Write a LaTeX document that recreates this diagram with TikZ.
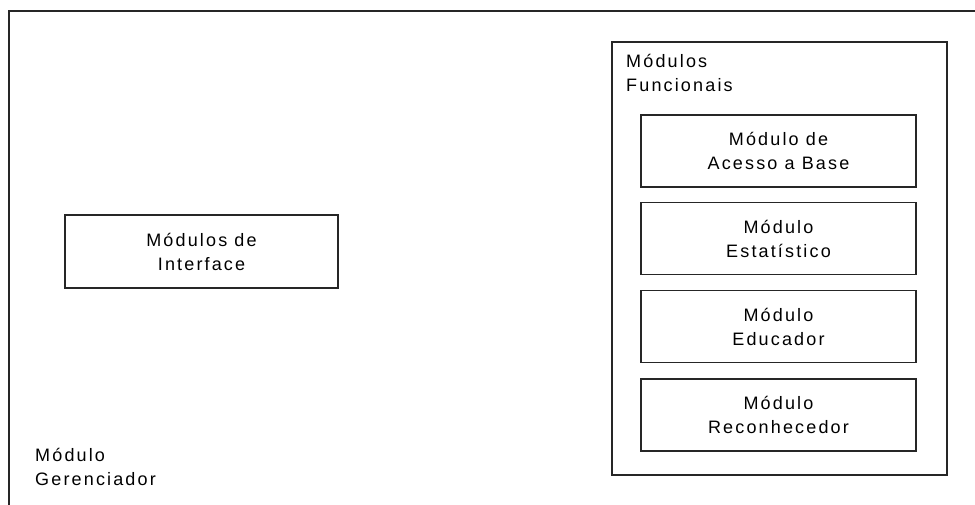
\documentclass[tikz,border=0pt]{standalone}
\usepackage{fontspec}
\newfontfamily\labfont[LetterSpace=12]{Liberation Sans}
\begin{document}
\begin{tikzpicture}[x=1pt,y=-1pt,
  lab/.style={font={\labfont\fontsize{18}{24}\selectfont}, inner sep=0pt},
  modbox/.style={draw=black!85, line width=1.3pt, rectangle, inner sep=0pt, lab, align=center},
  frame/.style={draw=black!85, line width=1.3pt}]
\useasboundingbox (0,0) rectangle (975,504);
\clip (0,0) rectangle (975,504);
\fill[white] (0,0) rectangle (975,504);
% outer frame (extends beyond the picture)
\draw[frame] (9,11) rectangle (1000,530);
\node[lab, anchor=base west, align=left] (ger) at (35,485) {Módulo\\Gerenciador};
% interface module
\node[modbox, minimum width=273pt, minimum height=73pt] (int) at (201.5,251.5) {Módulos de\\Interface};
% functional modules frame
\node[draw=black!85, line width=1.3pt, rectangle, minimum width=335pt, minimum height=433pt, inner sep=0pt] (fun) at (779.5,258.5) {};
\node[lab, anchor=base west, align=left] (funlab) at (626,91.7) {Módulos\\Funcionais};
\node[modbox, minimum width=275pt, minimum height=72pt] (m1) at (778.5,151) {Módulo de\\Acesso a Base};
\node[modbox, minimum width=275pt, minimum height=72pt] (m2) at (778.5,238.5) {Módulo\\Estatístico};
\node[modbox, minimum width=275pt, minimum height=72pt] (m3) at (778.5,326.5) {Módulo\\Educador};
\node[modbox, minimum width=275pt, minimum height=72pt] (m4) at (778.5,415) {Módulo\\Reconhecedor};
\end{tikzpicture}
\end{document}
